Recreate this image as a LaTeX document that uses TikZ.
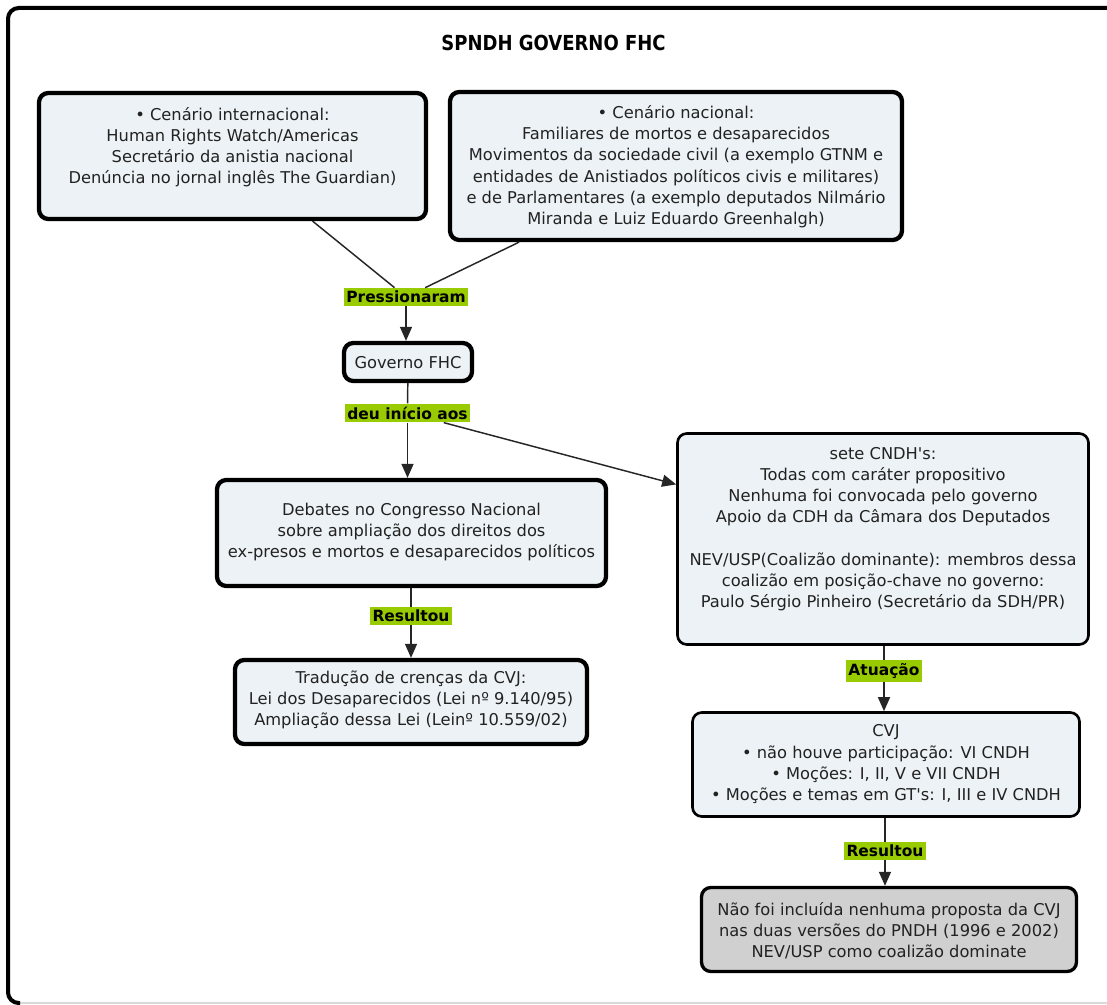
\documentclass[tikz,border=0pt]{standalone}
\usepackage{fontspec}
\setmainfont{DejaVu Sans}
\usepackage{graphicx}
\usetikzlibrary{arrows.meta}
\definecolor{boxfill}{RGB}{236,242,245}
\definecolor{grayfill}{RGB}{208,208,208}
\definecolor{lblgreen}{RGB}{153,204,0}
\definecolor{txt}{RGB}{34,34,34}
\newcommand{\bxtext}[2]{\raisebox{#1}[0pt][0pt]{\begin{tabular}{@{}c@{}}#2\end{tabular}}}
\begin{document}
\begin{tikzpicture}[x=0.75pt,y=-0.75pt,
  cbox/.style={draw=black, fill=boxfill, rounded corners=7pt, line width=3.2pt, inner sep=0pt, text=txt, font=\fontsize{12.2}{15.9}\selectfont},
  thinbox/.style={cbox, line width=2pt},
  graybox/.style={cbox, fill=grayfill, line width=2.5pt},
  lbl/.style={fill=lblgreen, inner xsep=2pt, inner ysep=2.3pt, font=\bfseries\fontsize{11.6}{13}\selectfont, text=black},
  conn/.style={line width=1.1pt, draw=black!85},
  arr/.style={conn, -{Triangle[length=10.5pt,width=9pt]}},
]
\useasboundingbox (0,0) rectangle (1107,1005);
% frame
\draw[black!15, line width=1pt] (14,1003) -- (1107,1003);
\draw[line width=3pt, rounded corners=8pt] (20,1003) -- (8,1003) -- (8,8) -- (1125,8);
% title
\node[font=\bfseries\fontsize{15.5}{18}\selectfont, text=black] (title) at (553.5,43) {\scalebox{0.87}[1]{SPNDH GOVERNO FHC}};
% boxes
\node[cbox, minimum width=290.25pt, minimum height=94.5pt] (intl) at (232.5,156)
  {\bxtext{3.2pt}{• Cenário internacional:\\Human Rights Watch/Americas\\Secretário da anistia nacional\\Denúncia no jornal inglês The Guardian)}};
\node[cbox, minimum width=339pt, minimum height=111pt] (natl) at (676,166)
  {\bxtext{-4pt}{• Cenário nacional:\\Familiares de mortos e desaparecidos\\Movimentos da sociedade civil (a exemplo GTNM e\\entidades de Anistiados políticos civis e militares)\\e de Parlamentares (a exemplo deputados Nilmário\\Miranda e Luiz Eduardo Greenhalgh)}};
\node[cbox, minimum width=96pt, minimum height=28.5pt] (gov) at (408,362)
  {\bxtext{-5pt}{Governo FHC}};
\node[cbox, minimum width=291.75pt, minimum height=79.5pt] (deb) at (411.5,533)
  {\bxtext{-2.5pt}{Debates no Congresso Nacional\\sobre ampliação dos direitos dos\\ex-presos e mortos e desaparecidos políticos}};
\node[thinbox, minimum width=308.25pt, minimum height=158.25pt] (sete) at (883,539)
  {\bxtext{4.3pt}{sete CNDH\textquotesingle s:\\Todas com caráter propositivo\\Nenhuma foi convocada pelo governo\\Apoio da CDH da Câmara dos Deputados\\ \\NEV/USP(Coalizão dominante): membros dessa\\coalizão em posição-chave no governo:\\Paulo Sérgio Pinheiro (Secretário da SDH/PR)}};
\node[cbox, minimum width=264pt, minimum height=63pt] (trad) at (411,702)
  {\bxtext{-1.7pt}{Tradução de crenças da CVJ:\\Lei dos Desaparecidos (Lei nº 9.140/95)\\Ampliação dessa Lei (Leinº 10.559/02)}};
\node[thinbox, minimum width=290.25pt, minimum height=78pt] (cvj) at (886,764.5)
  {\bxtext{-3pt}{CVJ\\• não houve participação: VI CNDH\\• Moções: I, II, V e VII CNDH\\• Moções e temas em GT\textquotesingle s: I, III e IV CNDH}};
\node[graybox, minimum width=281.25pt, minimum height=63pt] (res) at (889,929.5)
  {\bxtext{-5pt}{Não foi incluída nenhuma proposta da CVJ\\nas duas versões do PNDH (1996 e 2002)\\NEV/USP como coalizão dominate}};
% labels
\node[lbl] (l1) at (406,297) {Pressionaram};
\node[lbl] (l2) at (407.5,413) {deu início aos};
\node[lbl] (l3) at (411,616) {Resultou};
\node[lbl] (l4) at (884,671) {Atuação};
\node[lbl] (l5) at (885,851) {Resultou};
% connectors
\draw[conn] (intl) -- (l1);
\draw[conn] (natl) -- (l1);
\draw[arr] (l1.south) -- (l1.south |- gov.north);
\draw[conn] (gov) -- (l2);
\draw[arr] (l2.south) -- (l2.south |- deb.north);
\draw[arr] (l2) -- (sete);
\draw[conn] (deb.south -| l3.north) -- (l3.north);
\draw[arr] (l3.south) -- (l3.south |- trad.north);
\draw[conn] (sete.south -| l4.north) -- (l4.north);
\draw[arr] (l4.south) -- (l4.south |- cvj.north);
\draw[conn] (cvj.south -| l5.north) -- (l5.north);
\draw[arr] (l5.south) -- (l5.south |- res.north);
\end{tikzpicture}
\end{document}
